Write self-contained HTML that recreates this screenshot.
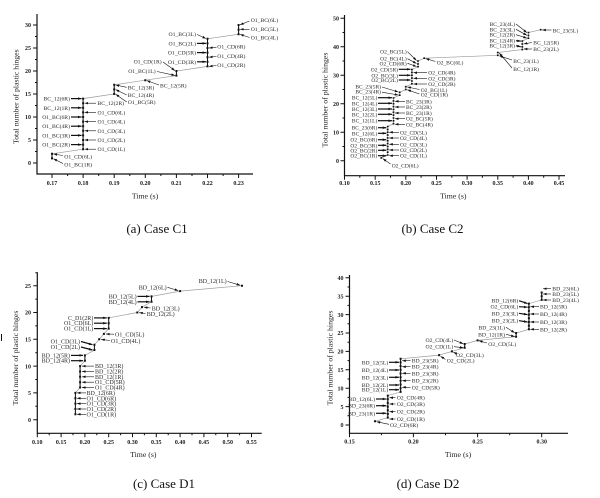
<!DOCTYPE html>
<html><head><meta charset="utf-8"><style>
html,body{margin:0;padding:0;background:#fff}
svg{display:block;filter:blur(0.3px)}
.l{font-family:"Liberation Serif",serif;font-size:5.7px;fill:#2a2a2a}
.l2{font-family:"Liberation Serif",serif;font-size:5.5px;fill:#2a2a2a}
.l3{font-family:"Liberation Serif",serif;font-size:6px;fill:#2a2a2a}
.e{text-anchor:end}
.m{text-anchor:middle}
.tk{font-family:"Liberation Serif",serif;font-size:6px;font-weight:bold;fill:#222}
.ax{font-family:"Liberation Serif",serif;font-size:7.8px;fill:#222}
.cap{font-family:"Liberation Serif",serif;font-size:13px;fill:#111;text-anchor:middle}
.a{stroke:#111;stroke-width:.6;fill:none;marker-end:url(#ah)}
.b{stroke:#111;stroke-width:1.2;fill:none;marker-end:url(#ah)}
.g{stroke:#9a9a9a;stroke-width:.7;fill:none}
.k{stroke:#111;stroke-width:1;fill:none}
.kx{stroke:#111;stroke-width:1.2;fill:none}
.mk{stroke:#111;stroke-width:2;fill:none}
.mk2{stroke:#111;stroke-width:1.6;fill:none}
</style></head><body>
<svg width="600" height="498" viewBox="0 0 600 498" xmlns="http://www.w3.org/2000/svg">
<defs><marker id="ah" viewBox="0 0 7 5" refX="7" refY="2.5" markerWidth="3.6" markerHeight="2.6" markerUnits="userSpaceOnUse" orient="auto"><path d="M0,0L7,2.5L0,5z" fill="#111"/></marker></defs>
<rect width="600" height="498" fill="#fff"/>

<!-- ===== Panel (a) C1 ===== -->
<path class="kx" d="M37 14V174H253"/>
<path class="k" d="M33 163H37M33 140H37M33 117H37M33 94H37M33 71H37M33 48H37M33 25H37M35 151.5H37M35 128.5H37M35 105.5H37M35 82.5H37M35 59.5H37M35 36.5H37M52 174V178M83.1 174V178M114.2 174V178M145.3 174V178M176.4 174V178M207.5 174V178M238.6 174V178M67.6 174V176M98.7 174V176M129.8 174V176M160.9 174V176M192 174V176M223.1 174V176"/>
<text class="tk e" x="31" y="165.2">0</text><text class="tk e" x="31" y="142.2">5</text><text class="tk e" x="31" y="119.2">10</text><text class="tk e" x="31" y="96.2">15</text><text class="tk e" x="31" y="73.2">20</text><text class="tk e" x="31" y="50.2">25</text><text class="tk e" x="31" y="27.2">30</text>
<text class="tk m" x="52" y="185">0.17</text><text class="tk m" x="83.1" y="185">0.18</text><text class="tk m" x="114.2" y="185">0.19</text><text class="tk m" x="145.3" y="185">0.20</text><text class="tk m" x="176.4" y="185">0.21</text><text class="tk m" x="207.5" y="185">0.22</text><text class="tk m" x="238.6" y="185">0.23</text>
<text class="ax m" x="145" y="198.5">Time (s)</text>
<text class="ax m" transform="translate(18.7,96.7) rotate(-90)">Total number of plastic hinges</text>
<text class="cap" x="157" y="233">(a) Case C1</text>
<path class="g" d="M52 158.4V153.8L83.1 149.2V98.6L114.2 94V84.8L145.3 80.2L176.4 75.6V71L207.5 66.4V38.8L238.6 34.2V25"/>
<path class="k" d="M52 153.8V158.4M83.1 98.6V149.2M114.2 84.8V94M176.4 71V75.6M207.5 38.8V66.4M238.6 25V34.2"/>
<path class="mk" d="M51 158.4h2M51 153.8h2M82.1 149.2h2M82.1 144.6h2M82.1 140h2M82.1 135.4h2M82.1 130.8h2M82.1 126.2h2M82.1 121.6h2M82.1 117h2M82.1 112.4h2M82.1 107.8h2M82.1 103.2h2M82.1 98.6h2M113.2 94h2M113.2 89.4h2M113.2 84.8h2M144.3 80.2h2M175.4 75.6h2M175.4 71h2M206.5 66.4h2M206.5 61.8h2M206.5 57.2h2M206.5 52.6h2M206.5 48h2M206.5 43.4h2M206.5 38.8h2M237.6 34.2h2M237.6 29.6h2M237.6 25h2"/>
<text class="l e" x="70" y="146.6">O1_BC(2R)</text><path class="b" d="M71 144.6H81.6"/>
<text class="l e" x="70" y="137.4">O1_BC(3R)</text><path class="b" d="M71 135.4H81.6"/>
<text class="l e" x="70" y="128.2">O1_BC(4R)</text><path class="b" d="M71 126.2H81.6"/>
<text class="l e" x="70" y="119">O1_BC(6R)</text><path class="b" d="M71 117H81.6"/>
<text class="l e" x="70" y="109.8">BC_12(1R)</text><path class="b" d="M71 107.8H81.6"/>
<text class="l e" x="70" y="100.6">BC_12(6R)</text><path class="b" d="M71 98.6H81.6"/>
<text class="l" x="97.5" y="151.2">O1_CD(1L)</text><path class="a" d="M96 149.2H84.6"/>
<text class="l" x="97.5" y="142">O1_CD(2L)</text><path class="a" d="M96 140H84.6"/>
<text class="l" x="97.5" y="132.8">O1_CD(3L)</text><path class="a" d="M96 130.8H84.6"/>
<text class="l" x="97.5" y="123.6">O1_CD(4L)</text><path class="a" d="M96 121.6H84.6"/>
<text class="l" x="97.5" y="114.4">O1_CD(6L)</text><path class="a" d="M96 112.4H84.6"/>
<text class="l" x="97.5" y="105.2">BC_12(2R)</text><path class="a" d="M96 103.2H84.6"/>
<text class="l" x="64.3" y="158.3">O1_CD(6L)</text><path class="a" d="M63 155.5L53.5 154"/>
<text class="l" x="64.3" y="166.7">O1_BC(1R)</text><path class="a" d="M63 163.5L53.5 158.8"/>
<text class="l" x="127.7" y="89.3">BC_12(3R)</text><path class="a" d="M126.7 87.3L115.7 85"/>
<text class="l" x="127.7" y="97">BC_12(4R)</text><path class="a" d="M126.7 95L115.7 89.6"/>
<text class="l" x="127.7" y="104">O1_BC(5R)</text><path class="a" d="M126.7 102L115.7 94.2"/>
<text class="l" x="160" y="87.3">BC_12(5R)</text><path class="a" d="M159 85L146.8 80.6"/>
<text class="l e" x="161.7" y="63.3">O1_CD(1R)</text><path class="a" d="M163 62L175 70.6"/>
<text class="l e" x="155.7" y="73">O1_BC(1L)</text><path class="a" d="M157 71.5L175 75.4"/>
<text class="l e" x="196" y="63.8">O1_CD(3R)</text><path class="b" d="M197 61.8H206"/>
<text class="l e" x="196" y="54.6">O1_CD(5R)</text><path class="b" d="M197 52.6H206"/>
<text class="l e" x="196" y="45.4">O1_BC(2L)</text><path class="b" d="M197 43.4H206"/>
<text class="l e" x="196" y="36">O1_BC(3L)</text><path class="a" d="M197 34.5L206 38.5"/>
<text class="l" x="217.3" y="67">O1_CD(2R)</text><path class="a" d="M216.5 65.5L209 66.4"/>
<text class="l" x="217.3" y="58">O1_CD(4R)</text><path class="a" d="M216.5 56.5L209 57.2"/>
<text class="l" x="217.3" y="48.7">O1_CD(6R)</text><path class="a" d="M216.5 47.2L209 48"/>
<text class="l" x="250.7" y="39.7">O1_BC(4L)</text><path class="a" d="M249.5 37.5L240.1 34.4"/>
<text class="l" x="250.7" y="31">O1_BC(5L)</text><path class="a" d="M249.5 29.3H240.1"/>
<text class="l" x="250.7" y="22">O1_BC(6L)</text><path class="a" d="M249.5 21L240.1 24.8"/>

<!-- ===== Panel (b) C2 ===== -->
<path class="kx" d="M344.5 15V175.7H565"/>
<path class="k" d="M340.5 160.7H344.5M340.5 132.2H344.5M340.5 103.7H344.5M340.5 75.3H344.5M340.5 46.8H344.5M340.5 18.3H344.5M342.5 146.5H344.5M342.5 118H344.5M342.5 89.5H344.5M342.5 61H344.5M342.5 32.5H344.5M344.5 175.7V179.7M375.2 175.7V179.7M405.8 175.7V179.7M436.5 175.7V179.7M467.1 175.7V179.7M497.8 175.7V179.7M528.4 175.7V179.7M559 175.7V179.7M359.8 175.7V177.7M390.5 175.7V177.7M421.1 175.7V177.7M451.8 175.7V177.7M482.4 175.7V177.7M513.1 175.7V177.7M543.7 175.7V177.7"/>
<text class="tk e" x="339" y="162.9">0</text><text class="tk e" x="339" y="134.4">10</text><text class="tk e" x="339" y="105.9">20</text><text class="tk e" x="339" y="77.5">30</text><text class="tk e" x="339" y="49">40</text><text class="tk e" x="339" y="20.5">50</text>
<text class="tk m" x="344.5" y="185">0.10</text><text class="tk m" x="375.2" y="185">0.15</text><text class="tk m" x="405.8" y="185">0.20</text><text class="tk m" x="436.5" y="185">0.25</text><text class="tk m" x="467.1" y="185">0.30</text><text class="tk m" x="497.8" y="185">0.35</text><text class="tk m" x="528.4" y="185">0.40</text><text class="tk m" x="559" y="185">0.45</text>
<text class="ax m" x="453.3" y="198.5">Time (s)</text>
<text class="ax m" transform="translate(327.7,100) rotate(-90)">Total number of plastic hinges</text>
<text class="cap" x="432.5" y="233">(b) Case C2</text>
<path class="g" d="M381.3 157.9L387.7 155V126.5L393.5 123.7V98L399.7 95.2V92.3L405.8 89.5V86.7L411.9 83.8V69.6L418 66.7V61L424.2 58.2L497.8 55.3V52.5L522.3 49.6V41.1L528.4 38.2V32.5L540.7 29.7"/>
<path class="mk2" d="M380.4 157.9h1.8M386.8 155h1.8M386.8 152.2h1.8M386.8 149.3h1.8M386.8 146.5h1.8M386.8 143.6h1.8M386.8 140.8h1.8M386.8 137.9h1.8M386.8 135.1h1.8M386.8 132.2h1.8M386.8 129.4h1.8M386.8 126.5h1.8M392.6 123.7h1.8M392.6 120.8h1.8M392.6 118h1.8M392.6 115.1h1.8M392.6 112.3h1.8M392.6 109.4h1.8M392.6 106.6h1.8M392.6 103.7h1.8M392.6 100.9h1.8M392.6 98h1.8M398.8 95.2h1.8M398.8 92.3h1.8M404.9 89.5h1.8M404.9 86.7h1.8M411 83.8h1.8M411 81h1.8M411 78.1h1.8M411 75.3h1.8M411 72.4h1.8M411 69.6h1.8M417.1 66.7h1.8M417.1 63.9h1.8M417.1 61h1.8M423.3 58.2h1.8M496.9 55.3h1.8M496.9 52.5h1.8M521.4 49.6h1.8M521.4 46.8h1.8M521.4 43.9h1.8M521.4 41.1h1.8M527.5 38.2h1.8M527.5 35.4h1.8M527.5 32.5h1.8M539.8 29.7h1.8"/>
<text class="l2 e" x="377.3" y="129.7">BC_23(6R)</text><path class="b" d="M378 127.7H386.3"/>
<text class="l2 e" x="377.3" y="135.3">BC_12(6L)</text><path class="b" d="M378 133.3H386.3"/>
<text class="l2 e" x="377.3" y="141.7">O2_BC(6R)</text><path class="b" d="M378 139.7H386.3"/>
<text class="l2 e" x="377.3" y="147.3">O2_BC(3R)</text><path class="b" d="M378 145.3H386.3"/>
<text class="l2 e" x="377.3" y="152.3">O2_BC(2R)</text><path class="b" d="M378 150.3H386.3"/>
<text class="l2 e" x="377.3" y="157.7">O2_BC(1R)</text><path class="b" d="M378 155.7H386.3"/>
<text class="l2" x="400" y="134.3">O2_CD(5L)</text><path class="a" d="M399 132.3H389.2"/>
<text class="l2" x="400" y="140">O2_CD(4L)</text><path class="a" d="M399 138H389.2"/>
<text class="l2" x="400" y="146.3">O2_CD(3L)</text><path class="a" d="M399 144.3H389.2"/>
<text class="l2" x="400" y="152">O2_CD(2L)</text><path class="a" d="M399 150H389.2"/>
<text class="l2" x="400" y="157.7">O2_CD(1L)</text><path class="a" d="M399 155.7H389.2"/>
<text class="l2" x="391.7" y="167.7">O2_CD(6L)</text><path class="a" d="M390.5 164L382.8 158.6"/>
<text class="l2 e" x="377.3" y="99.7">BC_12(5L)</text><path class="b" d="M378 97.7H392"/>
<text class="l2 e" x="377.3" y="105.3">BC_12(4L)</text><path class="b" d="M378 103.3H392"/>
<text class="l2 e" x="377.3" y="111">BC_12(3L)</text><path class="b" d="M378 109H392"/>
<text class="l2 e" x="377.3" y="116.3">BC_12(2L)</text><path class="b" d="M378 114.3H392"/>
<text class="l2 e" x="377.3" y="122.7">BC_12(1L)</text><path class="b" d="M378 120.7H392"/>
<text class="l2" x="406" y="103.3">BC_23(3R)</text><path class="a" d="M405 101.3H395"/>
<text class="l2" x="406" y="109">BC_23(2R)</text><path class="a" d="M405 107H395"/>
<text class="l2" x="406" y="115">BC_23(1R)</text><path class="a" d="M405 113H395"/>
<text class="l2" x="406" y="120.7">O2_BC(5R)</text><path class="a" d="M405 118.7H395"/>
<text class="l2" x="406" y="126.3">O2_BC(4R)</text><path class="a" d="M405 124.3H395"/>
<text class="l2 e" x="381" y="88.7">BC_23(5R)</text><path class="a" d="M382 87L398.3 92"/>
<text class="l2 e" x="381" y="93.7">BC_23(4R)</text><path class="a" d="M382 92.2L398.3 95"/>
<text class="l2" x="420.7" y="92">O2_BC(1L)</text><path class="a" d="M419.5 89.5L407.3 87"/>
<text class="l2" x="420.7" y="96.3">O2_CD(1R)</text><path class="a" d="M419.5 94L407.3 89.8"/>
<text class="l2 e" x="398" y="71.3">O2_CD(5R)</text><path class="b" d="M398.8 69.3H410.4"/>
<text class="l2 e" x="398" y="77.3">O2_BC(3L)</text><path class="b" d="M398.8 75.3H410.4"/>
<text class="l2 e" x="398" y="82">O2_BC(2L)</text><path class="b" d="M398.8 80H410.4"/>
<text class="l2" x="428.3" y="74.7">O2_CD(4R)</text><path class="a" d="M427 72.7H413.4"/>
<text class="l2" x="428.3" y="80.3">O2_CD(3R)</text><path class="a" d="M427 78.3H413.4"/>
<text class="l2" x="428.3" y="86">O2_CD(2R)</text><path class="a" d="M427 84H413.4"/>
<text class="l2 e" x="406.7" y="53.7">O2_BC(5L)</text><path class="a" d="M407.5 51.7L416.5 60.5"/>
<text class="l2 e" x="406.7" y="60.7">O2_BC(4L)</text><path class="a" d="M407.5 58.7L416.5 63.5"/>
<text class="l2 e" x="406.7" y="65.3">O2_CD(6R)</text><path class="a" d="M407.5 63.3L416.5 66.5"/>
<text class="l2" x="436.7" y="64.3">O2_BC(6L)</text><path class="a" d="M435.5 61.5L425.7 58.6"/>
<text class="l2" x="513.3" y="63">BC_23(1L)</text><path class="a" d="M512 60L499.3 55.8"/>
<text class="l2" x="513.3" y="71">BC_12(1R)</text><path class="a" d="M512 68L499.3 53"/>
<text class="l2 e" x="515" y="26">BC_23(4L)</text><path class="a" d="M516 24L526.9 32.6"/>
<text class="l2 e" x="515" y="31.3">BC_23(3L)</text><path class="a" d="M516 29.3L526.9 35.3"/>
<text class="l2 e" x="515" y="36.7">BC_12(2R)</text><path class="a" d="M516 34.7L526.9 38.1"/>
<text class="l2 e" x="515" y="42.7">BC_12(4R)</text><path class="b" d="M516 40.7L520.8 41.1"/>
<text class="l2 e" x="515" y="47.7">BC_12(3R)</text><path class="b" d="M516 45.7L520.8 46.8"/>
<text class="l2" x="533.3" y="44.7">BC_12(5R)</text><path class="a" d="M532 42.5L523.8 43.9"/>
<text class="l2" x="533.3" y="51">BC_23(2L)</text><path class="a" d="M532 49H523.8"/>
<text class="l2" x="552.7" y="32.3">BC_23(5L)</text><path class="a" d="M551.5 30H542.2"/>

<!-- ===== Panel (c) D1 ===== -->
<path class="k" d="M1.5 334V341"/>
<path class="kx" d="M37.3 272.3V433.3H261.7"/>
<path class="k" d="M33.3 419.7H37.3M33.3 392.9H37.3M33.3 366.1H37.3M33.3 339.3H37.3M33.3 312.5H37.3M33.3 285.7H37.3M35.3 406.3H37.3M35.3 379.5H37.3M35.3 352.7H37.3M35.3 325.9H37.3M35.3 299.1H37.3M35.3 272.8H37.3M37.3 433.3V437.3M61.1 433.3V437.3M84.9 433.3V437.3M108.7 433.3V437.3M132.5 433.3V437.3M156.3 433.3V437.3M180.1 433.3V437.3M203.9 433.3V437.3M227.7 433.3V437.3M251.5 433.3V437.3M49.2 433.3V435.3M73 433.3V435.3M96.8 433.3V435.3M120.6 433.3V435.3M144.4 433.3V435.3M168.2 433.3V435.3M192 433.3V435.3M215.8 433.3V435.3M239.6 433.3V435.3"/>
<text class="tk e" x="31" y="421.9">0</text><text class="tk e" x="31" y="395.1">5</text><text class="tk e" x="31" y="368.3">10</text><text class="tk e" x="31" y="341.5">15</text><text class="tk e" x="31" y="314.7">20</text><text class="tk e" x="31" y="287.9">25</text>
<text class="tk m" x="37.3" y="444">0.10</text><text class="tk m" x="61.1" y="444">0.15</text><text class="tk m" x="84.9" y="444">0.20</text><text class="tk m" x="108.7" y="444">0.25</text><text class="tk m" x="132.5" y="444">0.30</text><text class="tk m" x="156.3" y="444">0.35</text><text class="tk m" x="180.1" y="444">0.40</text><text class="tk m" x="203.9" y="444">0.45</text><text class="tk m" x="227.7" y="444">0.50</text><text class="tk m" x="251.5" y="444">0.55</text>
<text class="ax m" x="143.3" y="457">Time (s)</text>
<text class="ax m" transform="translate(18,358) rotate(-90)">Total number of plastic hinges</text>
<text class="cap" x="164" y="488">(c) Case D1</text>
<path class="g" d="M75.4 414.3V392.9L80.1 387.5V366.1L84.9 360.7V355.4L94.4 350V344.7L99.2 339.3L103.9 333.9L108.7 328.6V317.9L137.3 312.5L142 307.1L151.5 301.8V296.4L180.1 291.1L242 285.7"/>
<path class="k" d="M75.4 392.9V414.3M80.1 366.1V387.5M84.9 355.4V360.7M94.4 344.7V350M108.7 317.9V328.6M151.5 296.4V301.8"/>
<path class="mk" d="M74.4 414.3h2M74.4 409h2M74.4 403.6h2M74.4 398.3h2M74.4 392.9h2M79.1 387.5h2M79.1 382.2h2M79.1 376.8h2M79.1 371.5h2M79.1 366.1h2M83.9 360.7h2M83.9 355.4h2M93.4 350h2M93.4 344.7h2M98.2 339.3h2M102.9 333.9h2M107.7 328.6h2M107.7 323.2h2M107.7 317.9h2M136.3 312.5h2M141 307.1h2M150.5 301.8h2M150.5 296.4h2M179.1 291.1h2M241 285.7h2"/>
<text class="l3" x="86.5" y="416.3">O1_CD(1R)</text><path class="a" d="M86 414.3H77"/>
<text class="l3" x="86.5" y="411">O1_CD(2R)</text><path class="a" d="M86 409H77"/>
<text class="l3" x="86.5" y="405.6">O1_CD(3R)</text><path class="a" d="M86 403.6H77"/>
<text class="l3" x="86.5" y="400.3">O1_CD(6R)</text><path class="a" d="M86 398.3H77"/>
<text class="l3" x="86.5" y="394.9">BD_12(6R)</text><path class="a" d="M86 392.9H77"/>
<text class="l3" x="95" y="389.5">O1_CD(4R)</text><path class="a" d="M94 387.5H82"/>
<text class="l3" x="95" y="384.2">O1_CD(5R)</text><path class="a" d="M94 382.2H82"/>
<text class="l3" x="95" y="378.8">BD_12(1R)</text><path class="a" d="M94 376.8H82"/>
<text class="l3" x="95" y="373.5">BD_12(2R)</text><path class="a" d="M94 371.5H82"/>
<text class="l3" x="95" y="368.1">BD_12(3R)</text><path class="a" d="M94 366.1H82"/>
<text class="l3 e" x="70" y="362.7">BD_12(4R)</text><path class="b" d="M71 360.7H83"/>
<text class="l3 e" x="70" y="357.4">BD_12(5R)</text><path class="b" d="M71 355.4H83"/>
<text class="l3 e" x="80" y="349">O1_CD(2L)</text><path class="b" d="M81 347L92.5 350"/>
<text class="l3 e" x="80" y="343.5">O1_CD(3L)</text><path class="b" d="M81 341.5L92.5 344.7"/>
<text class="l3" x="111" y="343">O1_CD(4L)</text><path class="a" d="M110 340.5L101.2 339.4"/>
<text class="l3" x="115" y="336.3">O1_CD(5L)</text><path class="a" d="M114 334.2L106 334"/>
<text class="l3 e" x="93.3" y="319.9">C_D1(2R)</text><path class="b" d="M94 317.9H106.8"/>
<text class="l3 e" x="93.3" y="325.2">O1_CD(6L)</text><path class="b" d="M94 323.2H106.8"/>
<text class="l3 e" x="93.3" y="330.6">O1_CD(1L)</text><path class="b" d="M94 328.6H106.8"/>
<text class="l3" x="146.7" y="316">BD_12(2L)</text><path class="a" d="M145.5 313.5L139.2 312.6"/>
<text class="l3" x="151.7" y="310.3">BD_12(3L)</text><path class="a" d="M150.5 308L144 307.2"/>
<text class="l3 e" x="136.7" y="298.4">BD_12(5L)</text><path class="b" d="M137.5 296.4H149.6"/>
<text class="l3 e" x="136.7" y="303.8">BD_12(4L)</text><path class="b" d="M137.5 301.8H149.6"/>
<text class="l3 e" x="166.7" y="289.3">BD_12(6L)</text><path class="a" d="M167.5 287.3L178.3 290.6"/>
<text class="l3 e" x="226.7" y="283">BD_12(1L)</text><path class="a" d="M227.5 281.5L240.2 285.2"/>

<!-- ===== Panel (d) D2 ===== -->
<path class="kx" d="M349.5 275V433.3H568"/>
<path class="k" d="M345.5 425H349.5M345.5 406.6H349.5M345.5 388.2H349.5M345.5 369.8H349.5M345.5 351.4H349.5M345.5 333H349.5M345.5 314.6H349.5M345.5 296.2H349.5M345.5 277.8H349.5M347.5 415.8H349.5M347.5 397.4H349.5M347.5 379H349.5M347.5 360.6H349.5M347.5 342.2H349.5M347.5 323.8H349.5M347.5 305.4H349.5M347.5 287H349.5M349.5 433.3V437.3M413.4 433.3V437.3M477.6 433.3V437.3M541.7 433.3V437.3M381.4 433.3V435.3M445.5 433.3V435.3M509.7 433.3V435.3"/>
<text class="tk e" x="343.5" y="427.2">0</text><text class="tk e" x="343.5" y="408.8">5</text><text class="tk e" x="343.5" y="390.4">10</text><text class="tk e" x="343.5" y="372">15</text><text class="tk e" x="343.5" y="353.6">20</text><text class="tk e" x="343.5" y="335.2">25</text><text class="tk e" x="343.5" y="316.8">30</text><text class="tk e" x="343.5" y="298.4">35</text><text class="tk e" x="343.5" y="280">40</text>
<text class="tk m" x="349.5" y="443.5">0.15</text><text class="tk m" x="413.4" y="443.5">0.20</text><text class="tk m" x="477.6" y="443.5">0.25</text><text class="tk m" x="541.7" y="443.5">0.30</text>
<text class="ax m" x="458" y="457">Time (s)</text>
<text class="ax m" transform="translate(332.7,358) rotate(-90)">Total number of plastic hinges</text>
<text class="cap" x="428" y="488">(d) Case D2</text>
<path class="g" d="M375 421.3L387.8 417.6V395.6L400.6 391.9V358.8L439.1 355.1L451.9 351.4L464.7 347.7V344L477.6 340.4L516.1 336.7V333L528.9 329.3V303.6L541.7 299.9V292.5"/>
<path class="k" d="M387.8 395.6V417.6M400.6 358.8V391.9M464.7 344V347.7M516.1 333V336.7M528.9 303.6V329.3M541.7 292.5V299.9"/>
<path class="mk" d="M374 421.3h2M386.8 417.6h2M386.8 414h2M386.8 410.3h2M386.8 406.6h2M386.8 402.9h2M386.8 399.2h2M386.8 395.6h2M399.6 391.9h2M399.6 388.2h2M399.6 384.5h2M399.6 380.8h2M399.6 377.2h2M399.6 373.5h2M399.6 369.8h2M399.6 366.1h2M399.6 362.4h2M399.6 358.8h2M438.1 355.1h2M450.9 351.4h2M463.7 347.7h2M463.7 344h2M476.6 340.4h2M515.1 336.7h2M515.1 333h2M527.9 329.3h2M527.9 325.6h2M527.9 322h2M527.9 318.3h2M527.9 314.6h2M527.9 310.9h2M527.9 307.2h2M527.9 303.6h2M540.7 299.9h2M540.7 296.2h2M540.7 292.5h2"/>
<text class="l" x="390" y="427">O2_CD(6R)</text><path class="a" d="M389 424.3L376.6 421.7"/>
<text class="l e" x="375" y="401">BD_12(6L)</text><path class="b" d="M376 399H386.3"/>
<text class="l e" x="375" y="407.7">BD_23(6R)</text><path class="b" d="M376 405.7H386.3"/>
<text class="l e" x="375" y="415.3">BD_23(1R)</text><path class="b" d="M376 413.3H386.3"/>
<text class="l" x="396.7" y="399.7">O2_CD(4R)</text><path class="a" d="M395.5 397.7H389.4"/>
<text class="l" x="396.7" y="406">O2_CD(3R)</text><path class="a" d="M395.5 404H389.4"/>
<text class="l" x="396.7" y="413.7">O2_CD(2R)</text><path class="a" d="M395.5 411.7H389.4"/>
<text class="l" x="396.7" y="421">O2_CD(1R)</text><path class="a" d="M395.5 419H389.4"/>
<text class="l e" x="388.3" y="364.3">BD_12(5L)</text><path class="b" d="M389 362.3H399"/>
<text class="l e" x="388.3" y="372">BD_12(4L)</text><path class="b" d="M389 370H399"/>
<text class="l e" x="388.3" y="379.3">BD_12(3L)</text><path class="b" d="M389 377.3H399"/>
<text class="l e" x="388.3" y="387">BD_12(2L)</text><path class="b" d="M389 385H399"/>
<text class="l e" x="388.3" y="391.7">BD_12(1L)</text><path class="b" d="M389 389.7H399"/>
<text class="l" x="411.7" y="362.7">BD_23(5R)</text><path class="a" d="M410.5 360.7H402.2"/>
<text class="l" x="411.7" y="368.7">BD_23(4R)</text><path class="a" d="M410.5 366.7H402.2"/>
<text class="l" x="411.7" y="375.3">BD_23(3R)</text><path class="a" d="M410.5 373.3H402.2"/>
<text class="l" x="411.7" y="382.7">BD_23(2R)</text><path class="a" d="M410.5 380.7H402.2"/>
<text class="l" x="411.7" y="389.3">O2_CD(5R)</text><path class="a" d="M410.5 387.3H402.2"/>
<text class="l" x="446.7" y="362.7">O2_CD(2L)</text><path class="a" d="M445.5 359.5L440.6 356.2"/>
<text class="l" x="456" y="357">O2_CD(3L)</text><path class="a" d="M457 353.8L453.3 352.2"/>
<text class="l e" x="453.3" y="342">O2_CD(4L)</text><path class="a" d="M454 340L463.3 343.8"/>
<text class="l e" x="453.3" y="348.7">O2_CD(1L)</text><path class="a" d="M454 346.7L463.3 347.7"/>
<text class="l" x="488.3" y="346">O2_CD(5L)</text><path class="a" d="M487 343L479 340.8"/>
<text class="l e" x="505" y="329.3">BD_23(1L)</text><path class="a" d="M506 327.3L514.7 332.8"/>
<text class="l e" x="505" y="336.3">BD_12(1R)</text><path class="a" d="M506 334.3L514.7 336.6"/>
<text class="l e" x="518.3" y="302.7">BD_12(6R)</text><path class="b" d="M519 300.7L527.5 303.6"/>
<text class="l e" x="518.3" y="308.7">O2_CD(6L)</text><path class="b" d="M519 306.7L527.5 307.2"/>
<text class="l e" x="518.3" y="315.3">BD_23(3L)</text><path class="b" d="M519 313.3L527.5 314.6"/>
<text class="l e" x="518.3" y="322.7">BD_23(2L)</text><path class="b" d="M519 320.7L527.5 322"/>
<text class="l" x="540" y="308.7">BD_12(5R)</text><path class="a" d="M539 306.7H530.3"/>
<text class="l" x="540" y="316">BD_12(4R)</text><path class="a" d="M539 314H530.3"/>
<text class="l" x="540" y="324">BD_12(3R)</text><path class="a" d="M539 322H530.3"/>
<text class="l" x="540" y="331.3">BD_12(2R)</text><path class="a" d="M539 329.3H530.3"/>
<text class="l" x="552.3" y="290.7">BD_23(6L)</text><path class="a" d="M551 288.7H543.1"/>
<text class="l" x="552.3" y="296">BD_23(5L)</text><path class="a" d="M551 294H543.1"/>
<text class="l" x="552.3" y="302">BD_23(4L)</text><path class="a" d="M551 300H543.1"/>
</svg>
</body></html>
